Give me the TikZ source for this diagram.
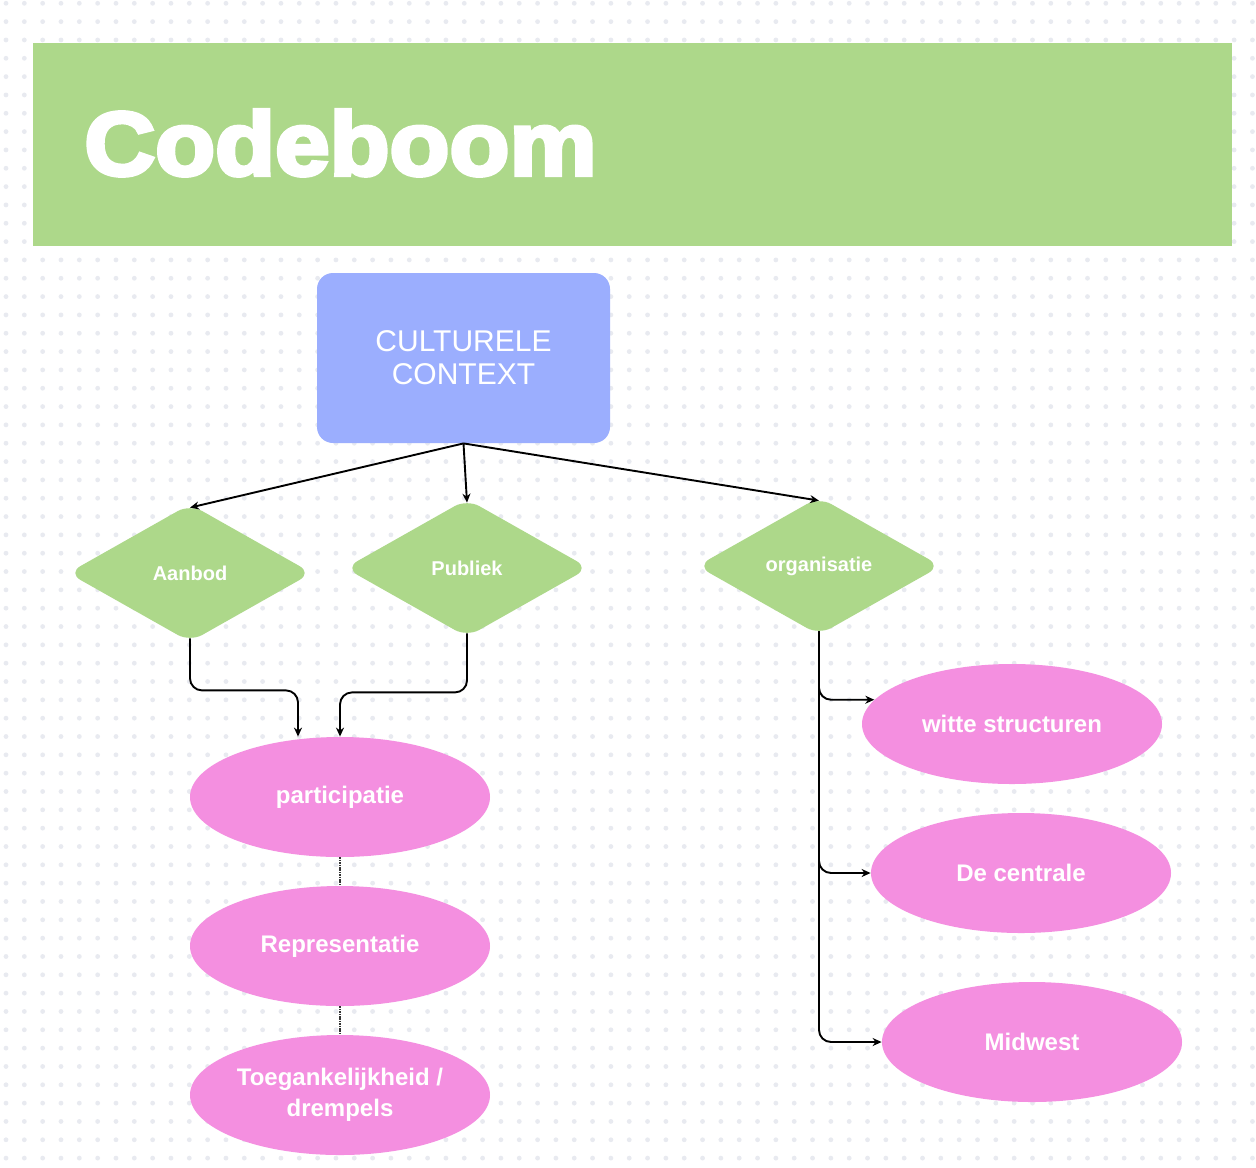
\documentclass[tikz,border=0pt]{standalone}
\usepackage{fontspec}
\setmainfont{Liberation Sans}
\newfontfamily\heavyfont[FakeBold=4.5,FakeStretch=1.09]{Liberation Sans Bold}
\usetikzlibrary{shapes.geometric}
\usetikzlibrary{arrows.meta}

\definecolor{leaf}{RGB}{173,216,138}
\definecolor{lila}{RGB}{155,174,254}
\definecolor{roze}{RGB}{244,143,224}
\definecolor{dotgray}{RGB}{232,234,240}

\tikzset{
    keuze/.style={diamond, fill=leaf, rounded corners=7pt, aspect=1.78, minimum width=122pt, minimum height=69pt, inner sep=0pt, text=white, font=\bfseries\fontsize{10}{12}\selectfont},
    bubbel/.style={ellipse, fill=roze, minimum width=150pt, minimum height=60pt, inner sep=0pt, text=white, align=center, font=\bfseries\fontsize{12}{15.5}\selectfont},
    pijl/.style={black, line width=0.95pt, -{Stealth[length=4.5pt,width=4pt]}},
    stip/.style={black!80, line width=0.7pt, dash pattern=on 0.8pt off 0.4pt}
}

\begin{document}
\begin{tikzpicture}[x=0.5pt,y=-0.5pt]
            \useasboundingbox (0,0) rectangle (1256,1167);
            \fill[white] (0,0) rectangle (1256,1167);
            \foreach \i in {0,...,68}
                \foreach \j in {0,...,63}
                    \fill[dotgray] (6+18.33*\i,3.3+18.33*\j) circle (1.2pt);

            \fill[leaf] (33,43) rectangle (1232,246);
            \node[anchor=base west, inner sep=0pt, text=white, font=\heavyfont\fontsize{45}{45}\selectfont] (titel) at (84,175) {Codeboom};

            \node[rectangle, rounded corners=8pt, fill=lila, minimum width=146.5pt, minimum height=85pt, text=white, align=center, font=\fontsize{15}{16.5}\selectfont] (context) at (463.5,358) {CULTURELE\\CONTEXT};

            \node[keuze] (aanbod) at (190,573) {Aanbod};
            \node[keuze] (publiek) at (467,568) {Publiek};
            \node[keuze] (organisatie) at (819,566) {organisatie};

            \node[bubbel] (participatie) at (340,797) {participatie};
            \node[bubbel] (representatie) at (340,946) {Representatie};
            \node[bubbel] (drempels) at (340,1095) {Toegankelijkheid /\\drempels};

            \node[bubbel] (witte) at (1012,724) {witte structuren};
            \node[bubbel] (centrale) at (1021,873) {De centrale};
            \node[bubbel] (midwest) at (1032,1042) {Midwest};

            \draw[pijl] (context.south) -- ([yshift=-2pt]aanbod.north);
            \draw[pijl] (context.south) -- ([yshift=-2pt]publiek.north);
            \draw[pijl] (context.south) -- ([yshift=-2pt]organisatie.north);

            \draw[pijl, rounded corners=6pt] ([yshift=2pt]aanbod.south) -- ++(0,52) -| ([xshift=-21pt]participatie.north);
            \draw[pijl, rounded corners=6pt] ([yshift=2pt]publiek.south) -- ++(0,59) -| (participatie.north);

            \draw[pijl, rounded corners=6pt] ([yshift=2pt]organisatie.south) |- (witte.170);
            \draw[pijl, rounded corners=6pt] ([yshift=2pt]organisatie.south) |- (centrale.west);
            \draw[pijl, rounded corners=6pt] ([yshift=2pt]organisatie.south) |- (midwest.west);

            \draw[stip] (participatie.south) -- (representatie.north);
            \draw[stip] (representatie.south) -- (drempels.north);
\end{tikzpicture}
\end{document}
